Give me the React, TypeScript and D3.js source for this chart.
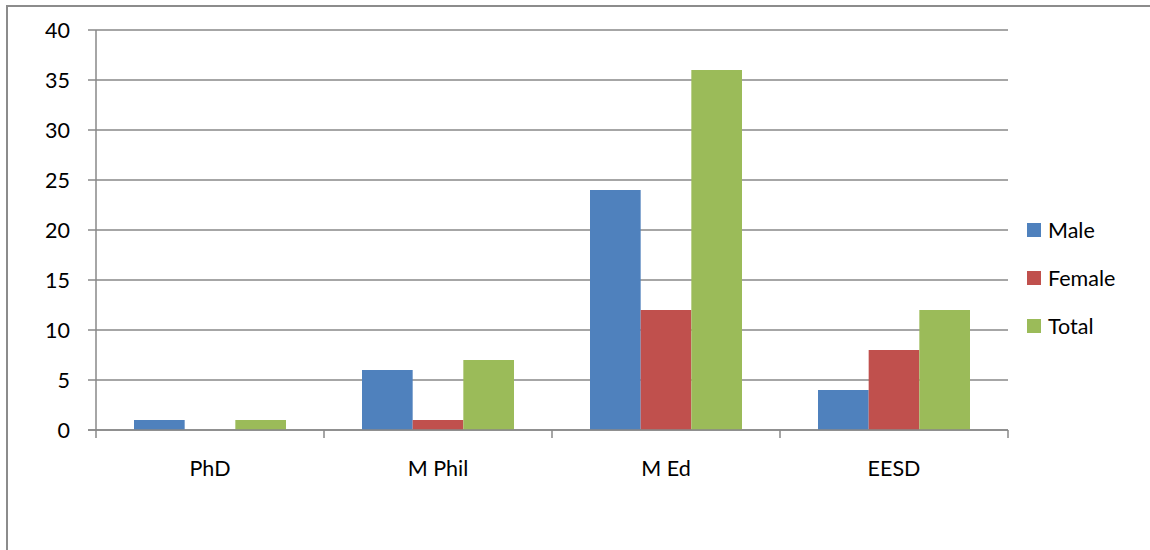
import React from "react";
import { scaleBand, scaleLinear } from "d3";

const categories = ["PhD", "M Phil", "M Ed", "EESD"];
const seriesNames = ["Male", "Female", "Total"];
const male = [1, 6, 24, 4];
const female = [0, 1, 12, 8];
const total = [1, 7, 36, 12];
const yTicks = [0, 5, 10, 15, 20, 25, 30, 35, 40];

const colors = ["#4F81BD", "#C0504D", "#9BBB59"];
const seriesValues = [male, female, total];

const W = 1150;
const H = 550;
const left = 96;
const right = 1008;
const top = 30;
const bottom = 430;
const font = "Lato, 'Open Sans', sans-serif";
const fontSize = 21.5;
const gridColor = "#888888";

export default function App() {
  const x = scaleBand().domain(categories).range([left, right]).paddingInner(0).paddingOuter(0);
  const inner = scaleBand().domain(seriesNames).range([0, x.bandwidth()]).paddingOuter(0.75).paddingInner(0);
  const y = scaleLinear().domain([0, 40]).range([bottom, top]);

  return (
    <div style={{ position: "fixed", left: 0, top: 0 }}>
      <svg width={W} height={H} style={{ display: "block", background: "#fff" }}>
        {/* outer border */}
        <rect x={7} y={6} width={W} height={H} fill="none" stroke="#8c8c8c" strokeWidth={2} />

        {/* grid lines + y labels */}
        {yTicks.map((t) => (
          <g key={t}>
            <line x1={left - 8} x2={right} y1={y(t)} y2={y(t)} stroke={gridColor} strokeWidth={1.5} />
            <text x={70} y={y(t)} dy="0.35em" textAnchor="end" fontFamily={font} fontSize={fontSize} fill="#000">
              {t}
            </text>
          </g>
        ))}

        {/* bars */}
        {categories.map((c, ci) =>
          seriesNames.map((s, si) => {
            const v = seriesValues[si][ci];
            if (!v) return null;
            const bx = (x(c) ?? 0) + (inner(s) ?? 0);
            return (
              <rect
                key={c + s}
                x={bx}
                y={y(v)}
                width={inner.bandwidth()}
                height={y(0) - y(v)}
                fill={colors[si]}
              />
            );
          })
        )}

        {/* axes */}
        <line x1={left} x2={left} y1={top} y2={bottom} stroke={gridColor} strokeWidth={1.5} />
        <line x1={left - 8} x2={right} y1={bottom} y2={bottom} stroke={gridColor} strokeWidth={1.5} />
        {[...categories.map((c) => x(c) ?? 0), right].map((tx, i) => (
          <line key={i} x1={tx} x2={tx} y1={bottom} y2={bottom + 8} stroke={gridColor} strokeWidth={1.5} />
        ))}
        {categories.map((c) => (
          <text
            key={c}
            x={(x(c) ?? 0) + x.bandwidth() / 2}
            y={468}
            dy="0.35em"
            textAnchor="middle"
            fontFamily={font}
            fontSize={fontSize}
            fill="#000"
          >
            {c}
          </text>
        ))}

        {/* legend */}
        {seriesNames.map((s, i) => (
          <g key={s} transform={`translate(1027, ${230 + i * 48})`}>
            <rect x={0} y={-7} width={14} height={14} fill={colors[i]} />
            <text x={21} y={0} dy="0.35em" fontFamily={font} fontSize={fontSize} fill="#000">
              {s}
            </text>
          </g>
        ))}
      </svg>
    </div>
  );
}
